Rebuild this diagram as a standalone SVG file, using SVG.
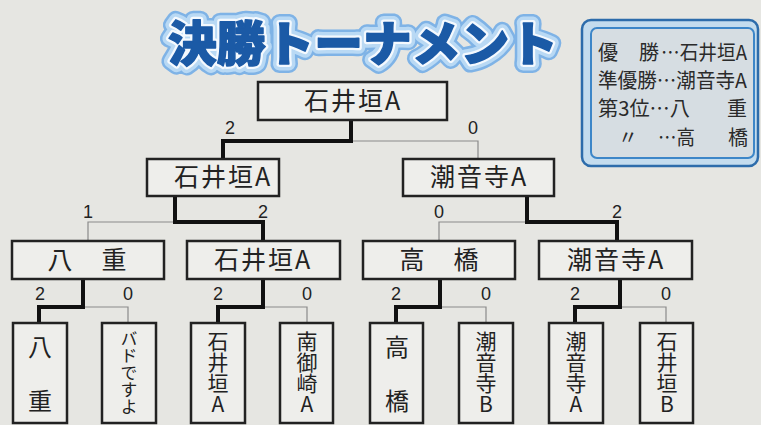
<svg xmlns="http://www.w3.org/2000/svg" width="761" height="425" viewBox="0 0 761 425">
<style>
.bg{fill:#e6e6e2}
.box{fill:#eeeeeb;stroke:#222;stroke-width:2.5}
.lbl{font-family:"Noto Sans CJK JP","Noto Sans",sans-serif;font-size:25px;fill:#222;text-anchor:middle;letter-spacing:2px}
.vt{font-family:"Noto Sans CJK JP","Noto Sans",sans-serif;font-size:21px;fill:#222;text-anchor:middle;writing-mode:vertical-rl;text-orientation:upright;letter-spacing:0}
.sc{font-family:"Liberation Sans","DejaVu Sans",sans-serif;font-size:18px;fill:#222;text-anchor:middle}
.win{fill:none;stroke:#111;stroke-width:4;stroke-linejoin:miter}
.lose{fill:none;stroke:#8a8a8a;stroke-width:1.2}
.lg{font-family:"Noto Sans CJK JP","Noto Sans",sans-serif;font-size:20px;fill:#2a2a2a}
.tt{font-family:"Noto Sans CJK JP",sans-serif;font-size:48px;font-weight:900;stroke-linejoin:round}
</style>
<rect class="bg" x="0" y="0" width="761" height="425"/>

<g id="title">
<text class="tt" x="168" y="61" textLength="390" lengthAdjust="spacingAndGlyphs" fill="#7fb3e6" stroke="#7fb3e6" stroke-width="18">決勝トーナメント</text>
<text class="tt" x="168" y="61" textLength="390" lengthAdjust="spacingAndGlyphs" fill="#b9d9f4" stroke="#b9d9f4" stroke-width="13">決勝トーナメント</text>
<text class="tt" x="168" y="61" textLength="390" lengthAdjust="spacingAndGlyphs" fill="#fff" stroke="#f4f9fe" stroke-width="6">決勝トーナメント</text>
<text class="tt" x="168" y="61" textLength="390" lengthAdjust="spacingAndGlyphs" fill="#1b5aa6" stroke="#1b5aa6" stroke-width="1.5">決勝トーナメント</text>
</g>

<g id="legend">
<rect x="582" y="20" width="176" height="146" rx="9" fill="#c4dcee" stroke="#2d6cab" stroke-width="2.5"/>
<rect x="591" y="28" width="163" height="130" rx="6" fill="#d6dde2" stroke="#3d86c8" stroke-width="2"/>
<text class="lg" x="598" y="60">優</text>
<text class="lg" x="639" y="60">勝</text>
<text class="lg" x="661" y="60" textLength="86" lengthAdjust="spacingAndGlyphs">…石井垣A</text>
<text class="lg" x="598" y="88" textLength="149" lengthAdjust="spacingAndGlyphs">準優勝…潮音寺A</text>
<text class="lg" x="598" y="116" textLength="92" lengthAdjust="spacingAndGlyphs">第3位…八</text>
<text class="lg" x="727" y="116">重</text>
<text class="lg" x="618" y="145">〃</text>
<text class="lg" x="658" y="145" textLength="37" lengthAdjust="spacingAndGlyphs">…高</text>
<text class="lg" x="728" y="145">橋</text>
</g>

<g id="connectors">
<path class="lose" d="M351,141 H478 V159"/>
<path class="lose" d="M175,222 H88 V241"/>
<path class="lose" d="M527,222 H439 V241"/>
<path class="lose" d="M83,307 H128 V323"/>
<path class="lose" d="M263,307 H307 V323"/>
<path class="lose" d="M440,307 H486 V323"/>
<path class="lose" d="M620,307 H666 V323"/>
<path class="win" d="M351,120 V141 H223 V159"/>
<path class="win" d="M175,196 V222 H263 V241"/>
<path class="win" d="M527,196 V222 H617 V241"/>
<path class="win" d="M83,279 V307 H39 V323"/>
<path class="win" d="M263,279 V307 H218 V323"/>
<path class="win" d="M440,279 V307 H396 V323"/>
<path class="win" d="M620,279 V307 H575 V323"/>
</g>

<g id="scores">
<text class="sc" x="230" y="134">2</text>
<text class="sc" x="473" y="134">0</text>
<text class="sc" x="88" y="218">1</text>
<text class="sc" x="263" y="218">2</text>
<text class="sc" x="439" y="218">0</text>
<text class="sc" x="617" y="218">2</text>
<text class="sc" x="40" y="300">2</text>
<text class="sc" x="128" y="300">0</text>
<text class="sc" x="218" y="300">2</text>
<text class="sc" x="307" y="300">0</text>
<text class="sc" x="396" y="300">2</text>
<text class="sc" x="486" y="300">0</text>
<text class="sc" x="575" y="300">2</text>
<text class="sc" x="666" y="300">0</text>
</g>

<g id="final">
<rect class="box" x="258" y="82" width="189" height="38"/>
<text class="lbl" x="353" y="110">石井垣A</text>
</g>

<g id="semi-1">
<rect class="box" x="147" y="159" width="132" height="37"/>
<text class="lbl" x="223" y="186">石井垣A</text>
</g>
<g id="semi-2">
<rect class="box" x="403" y="159" width="151" height="37"/>
<text class="lbl" x="479" y="186">潮音寺A</text>
</g>

<g id="qf-1">
<rect class="box" x="12" y="241" width="152" height="38"/>
<text class="lbl" x="88" y="269">八　重</text>
</g>
<g id="qf-2">
<rect class="box" x="187" y="241" width="153" height="38"/>
<text class="lbl" x="263" y="269">石井垣A</text>
</g>
<g id="qf-3">
<rect class="box" x="363" y="241" width="152" height="38"/>
<text class="lbl" x="440" y="269">高　橋</text>
</g>
<g id="qf-4">
<rect class="box" x="539" y="241" width="153" height="38"/>
<text class="lbl" x="616" y="269">潮音寺A</text>
</g>

<g id="r1-1">
<rect class="box" x="13" y="323" width="54" height="100"/>
<text class="vt" x="40" y="375" style="font-size:24px;letter-spacing:3px">八　重</text>
</g>
<g id="r1-2">
<rect class="box" x="102" y="323" width="54" height="100"/>
<text class="vt" x="129" y="373" style="font-size:17px">バドですよ</text>
</g>
<g id="r1-3">
<rect class="box" x="191" y="323" width="54" height="100"/>
<text class="vt" x="218" y="373">石井垣A</text>
</g>
<g id="r1-4">
<rect class="box" x="280" y="323" width="53" height="100"/>
<text class="vt" x="307" y="373">南御崎A</text>
</g>
<g id="r1-5">
<rect class="box" x="370" y="323" width="53" height="100"/>
<text class="vt" x="397" y="375" style="font-size:24px;letter-spacing:3px">高　橋</text>
</g>
<g id="r1-6">
<rect class="box" x="459" y="323" width="54" height="100"/>
<text class="vt" x="486" y="373">潮音寺B</text>
</g>
<g id="r1-7">
<rect class="box" x="549" y="323" width="54" height="100"/>
<text class="vt" x="576" y="373">潮音寺A</text>
</g>
<g id="r1-8">
<rect class="box" x="640" y="323" width="53" height="100"/>
<text class="vt" x="667" y="373">石井垣B</text>
</g>
</svg>
